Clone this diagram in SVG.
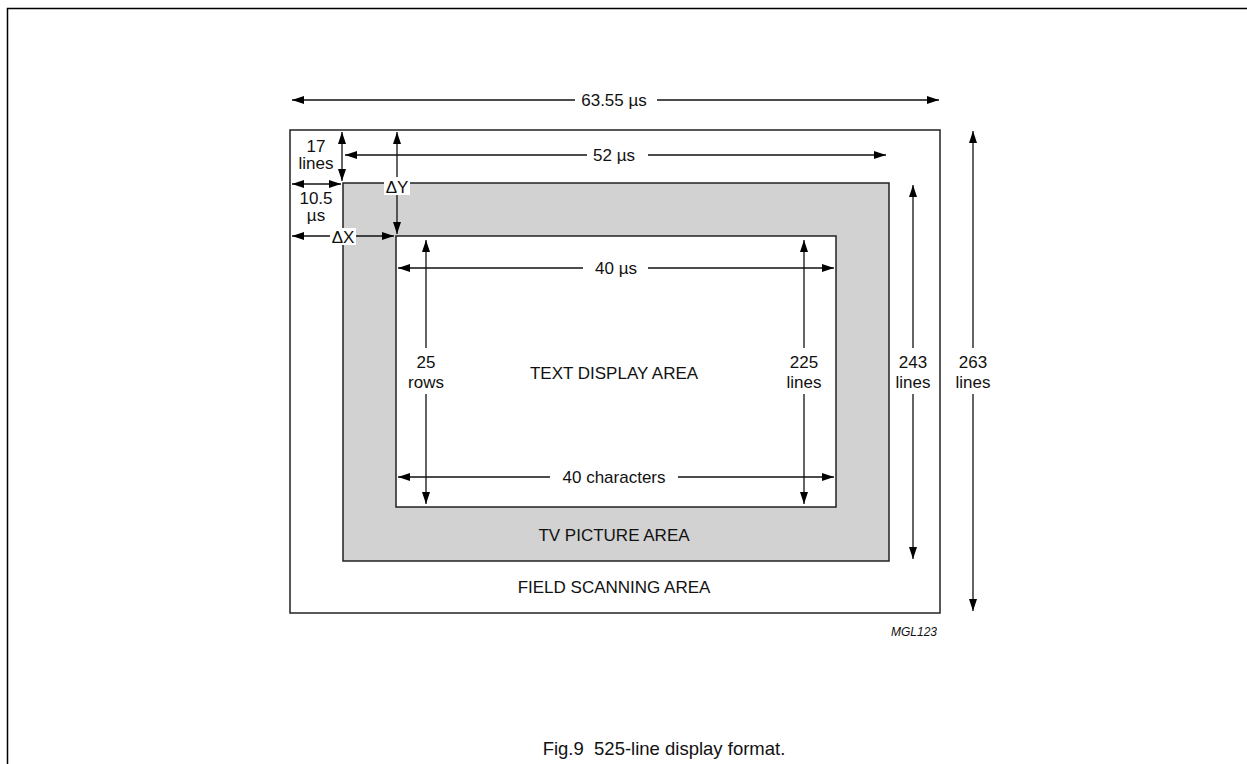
<svg xmlns="http://www.w3.org/2000/svg" width="1247" height="764" viewBox="0 0 1247 764">
<style>
text{font-family:"Liberation Sans",Arial,sans-serif;font-size:17px;fill:#111;text-anchor:middle}
.box{stroke:#222;stroke-width:1.5}
.dim{stroke:#111;stroke-width:1.3;fill:none}
</style>
<defs>
<marker id="ah" viewBox="0 0 12 8" refX="12" refY="4" markerWidth="12" markerHeight="8" markerUnits="userSpaceOnUse" orient="auto-start-reverse">
<path d="M0,0 L12,4 L0,8 Z" fill="#000"/>
</marker>
</defs>
<rect x="7.5" y="8.5" width="1300" height="800" fill="#fff" stroke="#000" stroke-width="1.5"/>
<g id="field"><rect class="box" x="290" y="130" width="650" height="483" fill="#fff"/><text x="614" y="593">FIELD SCANNING AREA</text></g>
<g id="tv"><rect class="box" x="343" y="183" width="546" height="378" fill="#d2d2d2"/><text x="614" y="541">TV PICTURE AREA</text></g>
<g id="textarea"><rect class="box" x="396" y="236" width="440" height="271" fill="#fff"/><text x="614" y="379">TEXT DISPLAY AREA</text></g>
<g id="connectors">
<line class="dim" x1="292" y1="100" x2="575" y2="100" marker-start="url(#ah)"/>
<line class="dim" x1="657" y1="100" x2="939" y2="100" marker-end="url(#ah)"/>
<text x="614" y="106">63.55 µs</text>
<line class="dim" x1="345" y1="155" x2="587" y2="155" marker-start="url(#ah)"/>
<line class="dim" x1="648" y1="155" x2="886" y2="155" marker-end="url(#ah)"/>
<text x="614" y="161">52 µs</text>
<line class="dim" x1="342" y1="132" x2="342" y2="181" marker-start="url(#ah)" marker-end="url(#ah)"/>
<text x="316" y="152">17</text><text x="316" y="169">lines</text>
<line class="dim" x1="292" y1="184" x2="341" y2="184" marker-start="url(#ah)" marker-end="url(#ah)"/>
<text x="316" y="204">10.5</text><text x="316" y="221">µs</text>
<line class="dim" x1="292" y1="236" x2="394" y2="236" marker-start="url(#ah)" marker-end="url(#ah)"/>
<rect x="330" y="228" width="26" height="17" fill="#fff"/>
<text x="343" y="243">ΔX</text>
<line class="dim" x1="397" y1="132" x2="397" y2="234" marker-start="url(#ah)" marker-end="url(#ah)"/>
<rect x="384" y="177" width="26" height="18" fill="#fff"/>
<text x="397" y="193">ΔY</text>
<line class="dim" x1="398" y1="268" x2="583" y2="268" marker-start="url(#ah)"/>
<line class="dim" x1="648" y1="268" x2="834" y2="268" marker-end="url(#ah)"/>
<text x="616" y="274">40 µs</text>
<line class="dim" x1="398" y1="477" x2="550" y2="477" marker-start="url(#ah)"/>
<line class="dim" x1="678" y1="477" x2="834" y2="477" marker-end="url(#ah)"/>
<text x="614" y="483">40 characters</text>
<line class="dim" x1="426" y1="240" x2="426" y2="348" marker-start="url(#ah)"/>
<line class="dim" x1="426" y1="394" x2="426" y2="504" marker-end="url(#ah)"/>
<text x="426" y="368">25</text><text x="426" y="388">rows</text>
<line class="dim" x1="804" y1="240" x2="804" y2="348" marker-start="url(#ah)"/>
<line class="dim" x1="804" y1="394" x2="804" y2="504" marker-end="url(#ah)"/>
<text x="804" y="368">225</text><text x="804" y="388">lines</text>
<line class="dim" x1="913" y1="185" x2="913" y2="348" marker-start="url(#ah)"/>
<line class="dim" x1="913" y1="394" x2="913" y2="559" marker-end="url(#ah)"/>
<text x="913" y="368">243</text><text x="913" y="388">lines</text>
<line class="dim" x1="973" y1="131" x2="973" y2="348" marker-start="url(#ah)"/>
<line class="dim" x1="973" y1="394" x2="973" y2="611" marker-end="url(#ah)"/>
<text x="973" y="368">263</text><text x="973" y="388">lines</text>
</g>
<text x="937" y="636" style="font-size:12px;font-style:italic;text-anchor:end">MGL123</text>
<text x="664" y="755" style="font-size:18.5px">Fig.9&#160;&#160;525-line display format.</text>
</svg>
